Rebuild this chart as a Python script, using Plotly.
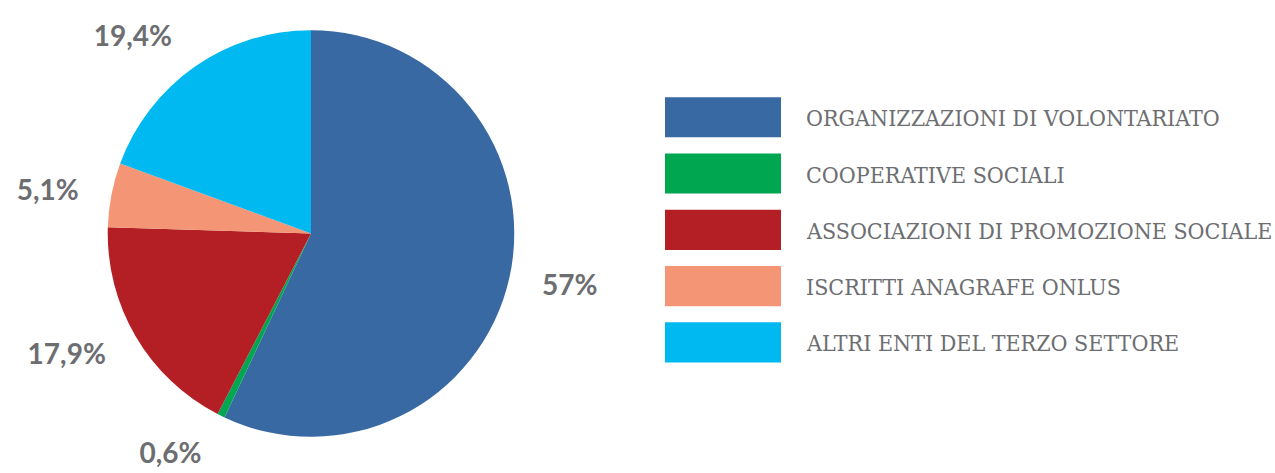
import plotly.graph_objects as go

categories = [
    "ORGANIZZAZIONI DI VOLONTARIATO",
    "COOPERATIVE SOCIALI",
    "ASSOCIAZIONI DI PROMOZIONE SOCIALE",
    "ISCRITTI ANAGRAFE ONLUS",
    "ALTRI ENTI DEL TERZO SETTORE",
]
values = [57.0, 0.6, 17.9, 5.1, 19.4]
colors = ["#3869A2", "#00A650", "#B31F25", "#F49676", "#00B9F0"]
label_texts = [(f"{v:g}".replace(".", ",") + "%") for v in values]

W, H = 1275, 473
GRAY = "#6D6E71"

# pie geometry (pixels)
cx, cy, r = 311, 234.5, 205
r_lab = 230  # radius at which outside labels are anchored


def dom(rad):
    return dict(x=[(cx - rad) / W, (cx + rad) / W],
                y=[max(0, 1 - (cy + rad) / H), min(1, 1 - (cy - rad) / H)])


fig = go.Figure()
# transparent carrier pie: places the percentage labels a bit further out
fig.add_trace(go.Pie(
    labels=categories, values=values, text=label_texts,
    textinfo="text", textposition="outside",
    sort=False, direction="clockwise", rotation=0,
    marker=dict(colors=["rgba(0,0,0,0)"] * len(values), line=dict(width=0)),
    textfont=dict(family="Lato", size=28, color=GRAY, weight="bold"),
    domain=dom(r_lab), showlegend=False, hoverinfo="skip",
))
fig.add_trace(go.Pie(
    labels=categories, values=values,
    textinfo="none",
    sort=False, direction="clockwise", rotation=0,
    marker=dict(colors=colors, line=dict(width=0)),
    domain=dom(r), showlegend=False,
    hoverinfo="label+percent",
))

# custom legend: large swatches + labels
leg_x0, leg_x1 = 665, 781
leg_top, leg_step, leg_h = 97, 56.75, 40.5
text_x = 804
shapes, annotations = [], []
for i, (cat, col) in enumerate(zip(categories, colors)):
    y0 = leg_top + i * leg_step
    shapes.append(dict(type="rect", xref="paper", yref="paper",
                       x0=leg_x0 / W, x1=leg_x1 / W,
                       y0=1 - (y0 + leg_h) / H, y1=1 - y0 / H,
                       fillcolor=col, line=dict(width=0)))
    annotations.append(dict(xref="paper", yref="paper",
                            x=text_x / W, y=1 - (y0 + leg_h / 2 + 1) / H,
                            xanchor="left", yanchor="middle", showarrow=False,
                            text=cat,
                            font=dict(family="DejaVu Serif Condensed, DejaVu Serif, serif",
                                      size=23, color=GRAY)))

fig.update_layout(
    width=W, height=H,
    margin=dict(l=0, r=0, t=0, b=0),
    paper_bgcolor="white", plot_bgcolor="white",
    shapes=shapes, annotations=annotations,
)

fig.write_html("out.html", config={"displayModeBar": False},
               post_script="document.body.style.margin='0px';")
